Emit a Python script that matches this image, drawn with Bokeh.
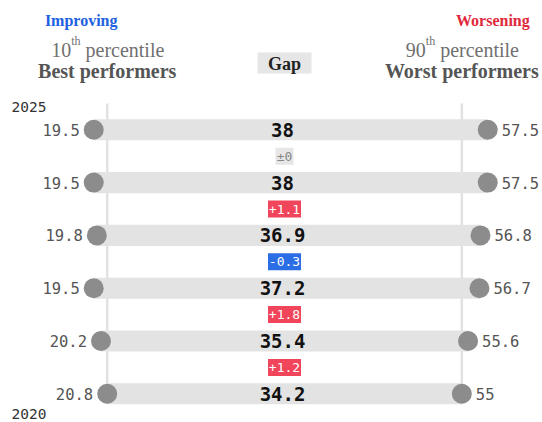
from bokeh.plotting import figure
from bokeh.models import ColumnDataSource, Range1d, Label
from bokeh.core.properties import value
from bokeh.embed import file_html
from bokeh.resources import INLINE

# ---- data ----
years = [2025, 2024, 2023, 2022, 2021, 2020]
best = [19.5, 19.5, 19.8, 19.5, 20.2, 20.8]
worst = [57.5, 57.5, 56.8, 56.7, 55.6, 55.0]
gap = [38, 38, 36.9, 37.2, 35.4, 34.2]
change = ["±0", "+1.1", "-0.3", "+1.8", "+1.2"]
change_kind = ["flat", "up", "down", "up", "up"]

# ---- styles ----
MONO = "DejaVu Sans Mono"
SERIF = "Liberation Serif"
BAR = "#e3e3e3"
DOT = "#8c8c8c"
RED = "#f0455a"
BLUE = "#2b6de5"


def fmt(v):
    return str(int(round(v))) if abs(v - round(v)) < 1e-9 else f"{v:.1f}"


W, H = 542, 422
ROW_PX = 52.8
BOTTOM_ROW_Y = 393.3
LABEL_SHIFT = 6  # labels render a little low; lift them


def ydat(py):
    return (BOTTOM_ROW_Y - py) / ROW_PX


def ylab(py):
    return ydat(py - LABEL_SHIFT)


p = figure(width=W, height=H, x_range=Range1d(10.51, 62.78),
           y_range=Range1d(ydat(H), ydat(0)),
           output_backend="svg", toolbar_location=None, min_border=0,
           x_axis_location=None, y_axis_location=None)
p.grid.visible = False
p.outline_line_color = None
p.background_fill_color = "white"

n = len(years)
ypos = [n - 1 - i for i in range(n)]

src = ColumnDataSource(dict(
    y=ypos, best=best, worst=worst,
    best_lbl=[fmt(v) for v in best], worst_lbl=[fmt(v) for v in worst],
    gap_lbl=[fmt(v) for v in gap],
    mid=[(best[-1] + worst[-1]) / 2] * n,
))

# reference vertical lines at the first-year values
p.segment(x0=[best[-1], worst[-1]], y0=[-0.19, -0.19],
          x1=[best[-1], worst[-1]], y1=[ypos[0] + 0.5, ypos[0] + 0.5],
          line_color="#e2e2e2", line_width=2.5)

# bars
p.hbar(y="y", left="best", right="worst", height=0.40, source=src,
       fill_color=BAR, line_color=None)
# dots
p.scatter(x="best", y="y", size=20, source=src, fill_color=DOT, line_color=None)
p.scatter(x="worst", y="y", size=20, source=src, fill_color=DOT, line_color=None)

# value labels
p.text(x="best", y="y", text="best_lbl", source=src, x_offset=-14,
       text_align="right", text_baseline="middle", text_font=value(MONO),
       text_font_size="15.5px", text_color="#555555")
p.text(x="worst", y="y", text="worst_lbl", source=src, x_offset=14,
       text_align="left", text_baseline="middle", text_font=value(MONO),
       text_font_size="15.5px", text_color="#555555")
# gap labels
p.text(x="mid", y="y", text="gap_lbl", source=src, x_offset=-2,
       text_align="center", text_baseline="middle", text_font=value(MONO),
       text_font_size="19px", text_font_style="bold", text_color="#111111")

# change badges
mid_x = (best[-1] + worst[-1]) / 2
bg = {"flat": "#e6e6e6", "up": RED, "down": BLUE}
fg = {"flat": "#888888", "up": "white", "down": "white"}
csrc = ColumnDataSource(dict(
    x=[mid_x] * len(change),
    y=[(ypos[i] + ypos[i + 1]) / 2 for i in range(len(change))],
    t=change,
    w=[7.5 * len(c) + 3 for c in change],
    bg=[bg[k] for k in change_kind],
    fg=[fg[k] for k in change_kind],
))
p.rect(x="x", y="y", width="w", height=17, width_units="screen",
       height_units="screen", source=csrc, fill_color="bg", line_color=None,
       x_offset=0) if False else None
p.rect(x="x", y="y", width="w", height=17, width_units="screen",
       height_units="screen", source=csrc, fill_color="bg", line_color=None)
p.text(x="x", y="y", text="t", source=csrc, text_align="center",
       text_baseline="middle", text_font=value(MONO), text_font_size="13px",
       text_color="fg")


# ---- headers ----
def lab(x, y, text, **kw):
    p.add_layout(Label(x=x, y=y, **kw, text=text))


# "Gap" box
p.rect(x=[mid_x], y=[ydat(62.5)], width=54, height=21, width_units="screen",
       height_units="screen", fill_color="#e6e6e6", line_color=None)
lab(mid_x, ylab(69.3), "Gap", text_font=SERIF, text_font_size="18px",
    text_font_style="bold", text_color="#222222", text_align="center",
    text_baseline="alphabetic")

for anchor, head, ptxt, name, hcol, hoff in [
        (best[-1], "Improving", "10", "Best performers", "#2160e0", -26),
        (worst[-1], "Worsening", "90", "Worst performers", "#e0283c", 31)]:
    lab(anchor, ylab(25.5), head, x_offset=hoff, text_font=SERIF,
        text_font_size="16px", text_font_style="bold", text_color=hcol,
        text_align="center", text_baseline="alphabetic")
    lab(anchor, ylab(55), ptxt, x_offset=-56, text_font=SERIF,
        text_font_size="20px", text_color="#707070", text_align="left",
        text_baseline="alphabetic")
    lab(anchor, ylab(46.7), "th", x_offset=-36, text_font=SERIF,
        text_font_size="12px", text_color="#707070", text_align="left",
        text_baseline="alphabetic")
    lab(anchor, ylab(55), "percentile", x_offset=-21.7, text_font=SERIF,
        text_font_size="20px", text_color="#707070", text_align="left",
        text_baseline="alphabetic")
    lab(anchor, ylab(76), name, text_font=SERIF, text_font_size="20px",
        text_font_style="bold", text_color="#555555", text_align="center",
        text_baseline="alphabetic")

# year labels
x0 = p.x_range.start
lab(x0, ylab(112), str(years[0]), x_offset=11, text_font=MONO,
    text_font_size="14.5px", text_color="#333333", text_align="left",
    text_baseline="alphabetic")
lab(x0, ylab(419), str(years[-1]), x_offset=11, text_font=MONO,
    text_font_size="14.5px", text_color="#333333", text_align="left",
    text_baseline="alphabetic")

open("out.html", "w").write(file_html(p, INLINE))
